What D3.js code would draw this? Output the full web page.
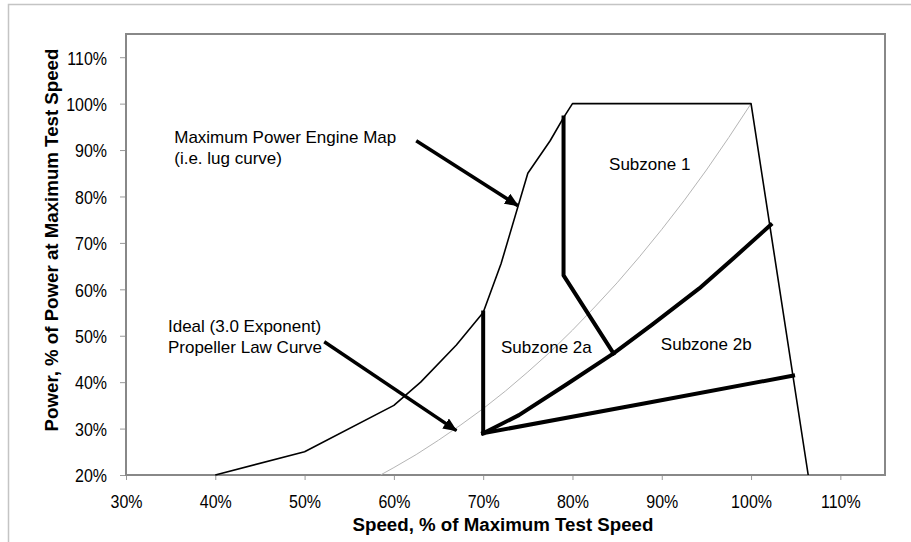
<!DOCTYPE html>
<html>
<head>
<meta charset="utf-8">
<script src="https://cdn.jsdelivr.net/npm/d3@7"></script>
<style>
  body { margin: 0; background: #fff; }
  text { font-family: "Liberation Sans", Arial, sans-serif; fill: #000; }
</style>
</head>
<body>
<div id="chart"></div>
<script>
// ticks
const xTicks = [30, 40, 50, 60, 70, 80, 90, 100, 110];
const yTicks = [20, 30, 40, 50, 60, 70, 80, 90, 100, 110];

// maximum power engine map (lug curve), [speed %, power %]
const lugCurve = [[40, 20], [50, 25], [60, 35], [63, 40], [67, 48], [70, 55], [72, 65.5],
    [75, 85], [77.5, 92], [79, 97], [80, 100], [100, 100], [106.4, 20]];

// ideal propeller law curve (3.0 exponent)
const propCurve = [[58.5, 20], [60, 21.6], [62.5, 24.4], [65, 27.5], [67.5, 30.8], [70, 34.3],
    [72.5, 38.1], [75, 42.2], [77.5, 46.5], [80, 51.2], [82.5, 56.2], [85, 61.4], [87.5, 67],
    [90, 72.9], [92.5, 79.1], [95, 85.7], [97.5, 92.7], [100, 100]];

// subzone boundaries
const zoneLeft = [[70, 55], [70, 29]];
const zoneMiddle = [[70, 29], [74, 32.9], [79.4, 39.6], [84.6, 46.2], [89, 52.5],
    [94.2, 60.2], [98.1, 66.8], [102.2, 73.9]];
const zoneLower = [[70, 29], [88, 35.4], [104.7, 41.4]];
const zoneOne = [[79, 97], [79, 63], [84.6, 46.2]];

// annotations
const labels = [
    { lines: ["Maximum Power Engine Map", "(i.e. lug curve)"], x: 35.4, y: 91.6 },
    { lines: ["Ideal (3.0 Exponent)", "Propeller Law Curve"], x: 34.7, y: 50.8 },
    { lines: ["Subzone 1"], x: 84.1, y: 85.7 },
    { lines: ["Subzone 2a"], x: 72.0, y: 46.2 },
    { lines: ["Subzone 2b"], x: 89.9, y: 46.9 }
];
const arrows = [
    { from: [62.5, 92.0], to: [73.9, 78.0] },
    { from: [52.2, 48.7], to: [67.0, 29.55] }
];

const width = 911;
const height = 542;
const margin = { top: 34, right: 26, bottom: 67, left: 126 };
const tickStretch = 1.18; // tick labels in the picture are a bit taller than wide

const svg = d3.select("#chart")
    .append("svg")
    .attr("width", width)
    .attr("height", height);

// outer frame of the chart area
svg.append("path")
    .attr("d", `M8.5,${height}V4.5H${width}`)
    .attr("fill", "none")
    .attr("stroke", "#c4c4c4")
    .attr("stroke-width", 1.5);

const x = d3.scaleLinear()
    .domain([30, 115])
    .range([margin.left, width - margin.right]);

const y = d3.scaleLinear()
    .domain([20, 115])
    .range([height - margin.bottom, margin.top]);

svg.append("defs").append("marker")
    .attr("id", "head")
    .attr("markerUnits", "userSpaceOnUse")
    .attr("viewBox", "0 0 14 12")
    .attr("refX", 13)
    .attr("refY", 6)
    .attr("markerWidth", 14)
    .attr("markerHeight", 12)
    .attr("orient", "auto")
    .append("path")
    .attr("d", "M0,0L14,6L0,12Z")
    .attr("fill", "#000");

function xAxis(g) {
    g.attr("transform", `translate(0, ${y(20)})`)
        .call(d3.axisBottom(x).tickValues(xTicks).tickSize(5).tickPadding(18).tickFormat(d => d + "%"));
    g.select(".domain").remove();
    g.selectAll("line").attr("stroke", "#999");
    g.selectAll("text")
        .attr("font-size", "16px")
        .attr("dy", 0)
        .attr("y", 33 / tickStretch)
        .attr("transform", `scale(1, ${tickStretch})`);
}

function yAxis(g) {
    g.attr("transform", `translate(${x(30)}, 0)`)
        .call(d3.axisLeft(y).tickValues(yTicks).tickSize(6).tickPadding(13).tickFormat(d => d + "%"));
    g.select(".domain").remove();
    g.selectAll("line").attr("stroke", "#999");
    g.selectAll("text")
        .attr("font-size", "16px")
        .attr("dy", "0.36em")
        .attr("transform", `scale(1, ${tickStretch})`);
}

svg.append("g").call(xAxis);
svg.append("g").call(yAxis);

// plot border
svg.append("rect")
    .attr("x", x(30))
    .attr("y", y(115))
    .attr("width", x(115) - x(30))
    .attr("height", y(20) - y(115))
    .attr("fill", "none")
    .attr("stroke", "#888")
    .attr("stroke-width", 2);

const line = d3.line().x(d => x(d[0])).y(d => y(d[1]));

svg.append("path")
    .attr("d", line(propCurve))
    .attr("fill", "none")
    .attr("stroke", "#b5b5b5")
    .attr("stroke-width", 1);

svg.append("path")
    .attr("d", line(lugCurve))
    .attr("fill", "none")
    .attr("stroke", "#000")
    .attr("stroke-width", 1.6)
    .attr("stroke-linejoin", "round");

for (const zone of [zoneLeft, zoneMiddle, zoneLower, zoneOne]) {
    svg.append("path")
        .attr("d", line(zone))
        .attr("fill", "none")
        .attr("stroke", "#000")
        .attr("stroke-width", 4)
        .attr("stroke-linejoin", "round")
        .attr("stroke-linecap", "square");
}

for (const a of arrows) {
    svg.append("line")
        .attr("x1", x(a.from[0]))
        .attr("y1", y(a.from[1]))
        .attr("x2", x(a.to[0]))
        .attr("y2", y(a.to[1]))
        .attr("stroke", "#000")
        .attr("stroke-width", 3.5)
        .attr("marker-end", "url(#head)");
}

for (const l of labels) {
    const t = svg.append("text")
        .attr("x", x(l.x))
        .attr("y", y(l.y))
        .attr("font-size", "17px");
    l.lines.forEach((s, i) => {
        t.append("tspan")
            .attr("x", x(l.x))
            .attr("dy", i === 0 ? 0 : 21)
            .text(s);
    });
}

svg.append("text")
    .attr("x", 503)
    .attr("y", 531)
    .attr("text-anchor", "middle")
    .attr("font-size", "18.7px")
    .attr("font-weight", "bold")
    .text("Speed, % of Maximum Test Speed");

svg.append("text")
    .attr("transform", "translate(58, 240) rotate(-90)")
    .attr("text-anchor", "middle")
    .attr("font-size", "18.7px")
    .attr("font-weight", "bold")
    .text("Power, % of Power at Maximum Test Speed");
</script>
</body>
</html>
